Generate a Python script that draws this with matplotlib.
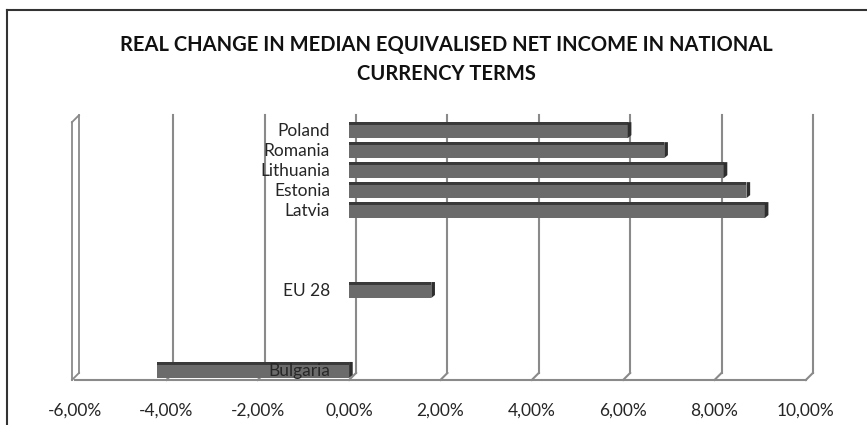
import matplotlib.pyplot as plt
from matplotlib.transforms import ScaledTranslation

# data
countries = ["Bulgaria", "EU 28", "Latvia", "Estonia", "Lithuania", "Romania", "Poland"]
slots = [0, 4, 8, 9, 10, 11, 12]   # blank categories sit between the groups
change = [-4.2, 1.8, 9.1, 8.7, 8.2, 6.9, 6.1]
ticks = [-6, -4, -2, 0, 2, 4, 6, 8, 10]
tick_labels = ["-6,00%", "-4,00%", "-2,00%", "0,00%", "2,00%", "4,00%", "6,00%", "8,00%", "10,00%"]
title = "REAL CHANGE IN MEDIAN EQUIVALISED NET INCOME IN NATIONAL\nCURRENCY TERMS"

plt.rcParams['font.family'] = ['Lato', 'DejaVu Sans']

fig = plt.figure(figsize=(8.67, 4.25), dpi=100)
ax = fig.add_axes([0.0865, 0.106, 0.843, 0.623])
ax.set_xlim(-6, 10)
ax.set_ylim(-0.5, 12.75)
for s in ax.spines.values():
    s.set_visible(False)
ax.set_yticks([])
ax.set_xticks(ticks)
ax.set_xticklabels(tick_labels, fontsize=12.5, color='#262626')
ax.tick_params(axis='x', length=0, pad=16)

# 3D depth shift (pixels)
d = 7
back = ax.transData + ScaledTranslation(d / 100, d / 100, fig.dpi_scale_trans)
grid_c = '#8a8a8a'
ybot, ytop = -0.5, 12.75 - d / 20

# gridlines on the back wall + diagonal down to floor front
for t in ticks[1:]:
    ax.plot([t, t], [ybot, ytop], color=grid_c, lw=1.5, transform=back, zorder=1,
            clip_on=False)
    ax.plot([t, t + d / 45.7], [ybot, ybot + d / 20], color=grid_c, lw=1.5, zorder=1,
            clip_on=False)
# floor front edge
ax.plot([ticks[0], ticks[-1]], [ybot, ybot], color=grid_c, lw=1.5, zorder=1, clip_on=False)
# left wall slab
wall = ax.transData + ScaledTranslation(-3 / 100, 0, fig.dpi_scale_trans)
wall_b = wall + ScaledTranslation(d / 100, d / 100, fig.dpi_scale_trans)
ax.plot([-6, -6], [ybot, ytop], color=grid_c, lw=1.3, transform=wall, zorder=1,
        clip_on=False)
ax.plot([-6, -6], [ybot, ytop], color=grid_c, lw=1.3, transform=wall_b, zorder=1,
        clip_on=False)
ax.plot([-6, -6 + d / 45.7], [ytop, ytop + d / 20], color=grid_c, lw=1.3,
        transform=wall, zorder=1, clip_on=False)
ax.plot([-6, -6 + d / 45.7], [ybot, ybot + d / 20], color=grid_c, lw=1.3,
        transform=wall, zorder=1, clip_on=False)

# bars
h = 0.8
ax.barh(slots, change, height=h, color='#6b6b6b', zorder=3)
ax.barh([s + h / 2 - 0.08 for s in slots], change, height=0.16, color='#3a3a3a', zorder=4)
for s, v in zip(slots, change):
    end = max(v, 0)
    ax.fill([end, end + 0.08, end + 0.08, end],
            [s - h / 2, s - h / 2 + 0.15, s + h / 2, s + h / 2],
            color='#2e2e2e', zorder=5, lw=0)

# category labels at the zero line
lab = ax.transData + ScaledTranslation(-19 / 100, -1 / 100, fig.dpi_scale_trans)
for s, name in zip(slots, countries):
    ax.text(0, s, name, ha='right', va='center', fontsize=12.5, color='#262626',
            transform=lab, zorder=6)

fig.text(0.515, 0.86, title, ha='center', va='center', fontsize=14.5,
         fontweight='bold', color='#111111', linespacing=1.5)

# outer frame (top and left only)
fig.add_artist(plt.Line2D([0.008, 1], [0.976, 0.976], color='#333333', lw=1.5))
fig.add_artist(plt.Line2D([0.008, 0.008], [0.976, 0], color='#333333', lw=1.5))

fig.savefig('out.png', dpi=100)
